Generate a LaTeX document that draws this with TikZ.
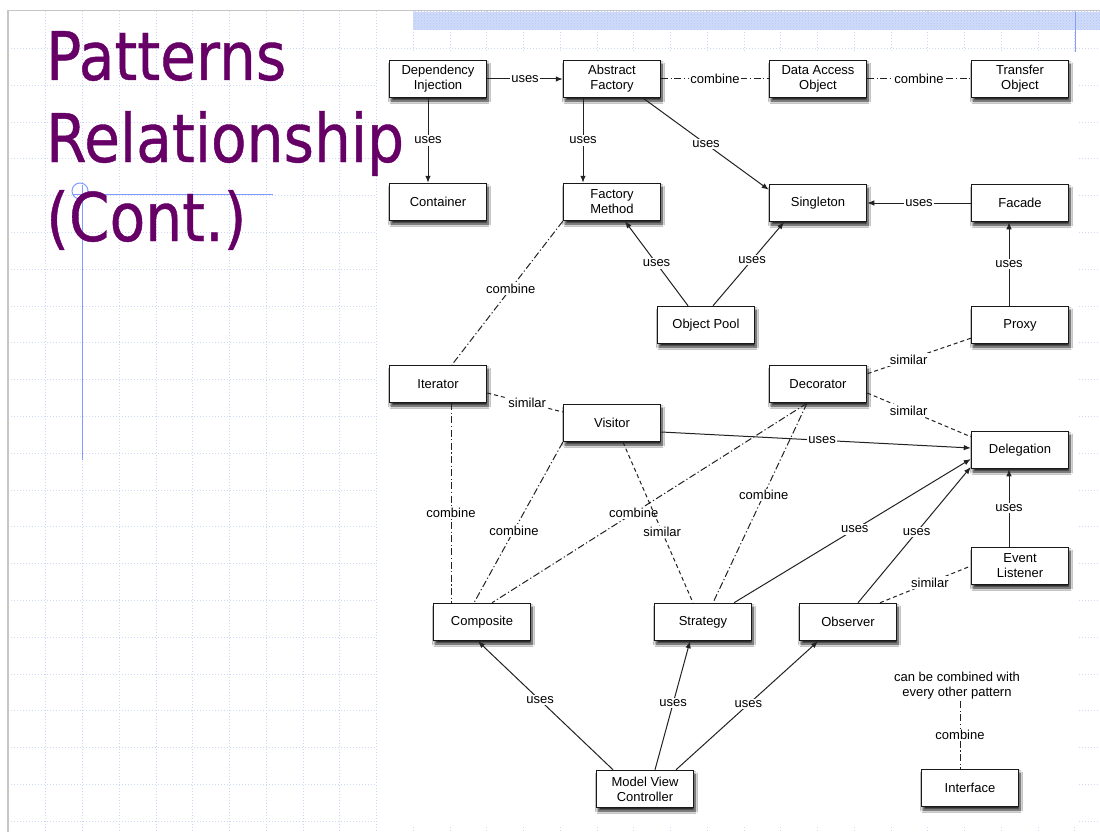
\documentclass[tikz,border=0pt]{standalone}
\usepackage{fontspec}
\setmainfont{Liberation Sans}
\newfontfamily\titlefont[FakeStretch=0.87, FakeBold=0.6]{DejaVu Sans}
\usetikzlibrary{arrows.meta, shadows.blur, patterns}

\definecolor{titlepurple}{HTML}{660066}
\definecolor{gridblue}{HTML}{CDD8F7}
\definecolor{guideblue}{HTML}{7F9CFF}
\definecolor{barblue}{HTML}{D0DBF7}
\definecolor{edgegray}{HTML}{222222}

\begin{document}
\begin{tikzpicture}[x=1pt, y=-1pt, >={Latex[length=7pt, width=5.5pt]},
  patbox/.style={draw=black!90, line width=1.5pt, fill=white,
    minimum width=97pt, minimum height=37pt, inner sep=1pt, align=center,
    font=\fontsize{13}{15}\selectfont,
    blur shadow={shadow xshift=1.5pt, shadow yshift=-3.5pt,
      shadow blur radius=2.5pt, shadow blur steps=8, shadow opacity=85}},
  uses/.style={->, draw=edgegray, line width=1pt},
  combine/.style={draw=edgegray, line width=1pt,
    dash pattern=on 7pt off 2.5pt on 1.2pt off 2.5pt},
  similar/.style={draw=edgegray, line width=1pt, dash pattern=on 4pt off 3pt},
  rel/.style={fill=white, inner sep=1.5pt, font=\fontsize{13}{15}\selectfont},
  gridline/.style={gridblue, line width=0.7pt, dash pattern=on 1pt off 2pt},
  guide/.style={guideblue, line width=1pt},
  title/.style={titlepurple, anchor=base west, inner sep=0pt,
    font=\titlefont\fontsize{67}{80}\selectfont}]

  \useasboundingbox (0,0) rectangle (1100,832);

  % --- slide background: dotted grid, frame, header bar ---
  \foreach \k in {0,...,28}
    \draw[gridline] ({45.7+36.75*\k},11) -- ({45.7+36.75*\k},832);
  \foreach \k in {0,...,21}
    \draw[gridline] (8,{48.3+36.8*\k}) -- (1100,{48.3+36.8*\k});
  \draw[gray!45, line width=1.2pt] (8,832) -- (8,10.5) -- (1100,10.5);
  \fill[barblue] (413,12) rectangle (1100,30);
  \fill[pattern=crosshatch dots, pattern color=guideblue!60] (413,12) rectangle (1100,30);
  \draw[guide] (1075,12) -- (1075,52);

  % white sheet for the diagram
  \fill[white] (377,52) rectangle (1077,826);

  % guide marks behind the title
  \draw[guide] (73,194) -- (273,194);
  \draw[guide] (82,185) -- (82,460);
  \draw[guide] (80,191) circle (8);

  \node[title] (t1) at (46,80) {Patterns};
  \node[title] (t2) at (46,162) {Relationship};
  \node[title] (t3) at (46,241) {(Cont.)};

  % --- patterns ---
  \node[patbox] (di)     at (438,79)  {Dependency\\Injection};
  \node[patbox] (af)     at (612,79)  {Abstract\\Factory};
  \node[patbox] (dao)    at (818,79)  {Data Access\\Object};
  \node[patbox] (to)     at (1020,79) {Transfer\\Object};
  \node[patbox] (cont)   at (438,202) {Container};
  \node[patbox] (fm)     at (612,202) {Factory\\Method};
  \node[patbox] (single) at (818,203) {Singleton};
  \node[patbox] (facade) at (1020,203) {Facade};
  \node[patbox] (pool)   at (706,325) {Object Pool};
  \node[patbox] (proxy)  at (1020,325) {Proxy};
  \node[patbox] (iter)   at (438,384) {Iterator};
  \node[patbox] (deco)   at (818,384) {Decorator};
  \node[patbox] (visit)  at (612,423) {Visitor};
  \node[patbox] (deleg)  at (1020,450) {Delegation};
  \node[patbox] (event)  at (1020,566) {Event\\Listener};
  \node[patbox] (comp)   at (482,622) {Composite};
  \node[patbox] (strat)  at (703,622) {Strategy};
  \node[patbox] (obs)    at (848,622) {Observer};
  \node[patbox] (mvc)    at (645,789) {Model View\\Controller};
  \node[patbox] (iface)  at (970,788) {Interface};
  \node[rel, fill=none, align=center] (note) at (957,686)
    {can be combined with\\every other pattern};

  % --- top rows ---
  \draw[uses] (di.east) -- node[rel] {uses} (af.west);
  \draw[combine] (af.east) -- node[rel] {combine} (dao.west);
  \draw[combine] (dao.east) -- node[rel] {combine} (to.west);
  \draw[uses] ([xshift=-10pt]di.south) -- node[rel] {uses} ([xshift=-10pt]cont.north);
  \draw[uses] ([xshift=-29pt]af.south) -- node[rel] {uses} ([xshift=-29pt]fm.north);
  \draw[uses] ([xshift=-18pt]af.south east) -- node[rel] {uses} ([yshift=-6pt]single.north west);
  \draw[uses] (facade.west) -- node[rel] {uses} (single.east);
  \draw[uses] ([xshift=-18pt]pool.north) -- node[rel] {uses} ([xshift=13pt]fm.south);
  \draw[uses] ([xshift=7pt]pool.north) -- node[rel, pos=0.55] {uses} ([xshift=-34pt]single.south);
  \draw[uses] ([xshift=-11pt]proxy.north) -- node[rel] {uses} ([xshift=-11pt]facade.south);
  \draw[combine] (fm.south west) -- node[rel, pos=0.47] {combine} ([xshift=14pt]iter.north);

  % --- middle ---
  \draw[similar] ([yshift=6pt]proxy.south west) -- node[rel, pos=0.6] {similar} ([yshift=-9pt]deco.north east);
  \draw[similar] ([yshift=-9pt]deco.east) -- node[rel, pos=0.4] {similar} ([yshift=-6pt]deleg.north west);
  \draw[similar] ([yshift=-9pt]iter.east) -- node[rel, pos=0.53] {similar} ([yshift=11pt]visit.west);
  \draw[uses] ([yshift=-9pt]visit.east) -- node[rel, pos=0.52] {uses} ([yshift=2pt]deleg.west);
  \draw[combine] ([xshift=13pt]iter.south) -- node[rel, pos=0.55] {combine} ([xshift=-31pt]comp.north);
  \draw[combine] (visit.south west) -- node[rel, pos=0.55] {combine} ([xshift=-8pt]comp.north);
  \draw[combine] ([xshift=-11pt]deco.south) -- node[rel, pos=0.55] {combine} ([xshift=10pt]comp.north);
  \draw[combine] ([xshift=-11pt]deco.south) -- node[rel, pos=0.46] {combine} ([xshift=10pt]strat.north);
  \draw[similar] ([xshift=11pt]visit.south) -- node[rel, pos=0.56] {similar} ([xshift=-10pt]strat.north);
  \draw[uses] ([xshift=31pt]strat.north) -- node[rel, pos=0.51] {uses} ([yshift=-9pt]deleg.west);
  \draw[uses] ([xshift=10pt]obs.north) -- node[rel, pos=0.52] {uses} ([yshift=-17pt]deleg.west);
  \draw[uses] ([xshift=-11pt]event.north) -- node[rel] {uses} ([xshift=-11pt]deleg.south);
  \draw[similar] ([xshift=32pt]obs.north) -- node[rel, pos=0.55] {similar} (event.west);

  % --- bottom ---
  \draw[uses] ([xshift=-32pt]mvc.north) -- node[rel, pos=0.54] {uses} ([xshift=-4pt]comp.south);
  \draw[uses] ([xshift=10pt]mvc.north) -- node[rel, pos=0.52] {uses} ([xshift=-13pt]strat.south);
  \draw[uses] ([xshift=31pt]mvc.north) -- node[rel, pos=0.51] {uses} ([xshift=-30pt]obs.south);
  \draw[combine] ([xshift=3pt]note.south) -- node[rel] {combine} ([xshift=-10pt]iface.north);

\end{tikzpicture}
\end{document}
